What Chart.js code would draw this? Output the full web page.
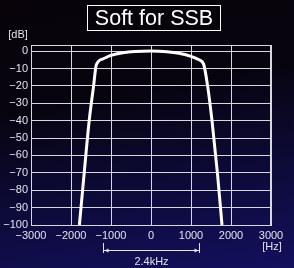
<!DOCTYPE html>
<html>
<head>
<meta charset="utf-8">
<script src="https://cdn.jsdelivr.net/npm/chart.js@4"></script>
<style>
  html, body { margin: 0; padding: 0; }
  body {
    width: 294px; height: 268px; overflow: hidden;
    background: linear-gradient(170deg, #070309 0%, #07040f 35%, #0d0b3c 70%, #13105e 100%);
  }
  #wrap { position: relative; width: 294px; height: 268px; }
</style>
</head>
<body>
<div id="wrap"><canvas id="chart" width="294" height="268"></canvas></div>
<script>
// Passband shape (Hz, dB)
const freqs = [-1790, -1670, -1545, -1435, -1368, -1200, -1000, -700, -400, 0, 400, 700, 1000, 1200, 1315, 1415, 1525, 1660, 1775];
const levels = [-100, -70, -40, -20, -8, -4.5, -2.5, -1, -0.3, 0, -0.4, -1.3, -3, -5, -7.5, -20, -40, -70, -100];
const xTicks = [-3000, -2000, -1000, 0, 1000, 2000, 3000];
const yTicks = [-100, -90, -80, -70, -60, -50, -40, -30, -20, -10, 0];
const bandEdges = [-1200, 1200];
const titleText = "Soft for SSB";
const bandLabel = "2.4kHz";

const points = freqs.map((f, i) => ({ x: f, y: levels[i] }));
const fontFam = "'Liberation Sans', Arial, sans-serif";
const textColor = "#e4e2ee";

function minus(v) {
  return String(v).replace("-", "\u2212");
}

// extra drawing: title box, frame, units, bandwidth marker
const extras = {
  id: "extras",
  afterDraw(chart) {
    const ctx = chart.ctx;
    const area = chart.chartArea;
    const xs = chart.scales.x;
    ctx.save();

    // frame on top
    ctx.strokeStyle = "#d8d8dc";
    ctx.lineWidth = 1;
    ctx.strokeRect(area.left + 0.5, area.top + 0.5, area.right - area.left - 1, area.bottom - area.top);

    // title box
    ctx.font = "21.5px " + fontFam;
    ctx.fillStyle = "#ffffff";
    ctx.textAlign = "center";
    ctx.textBaseline = "middle";
    ctx.fillText(titleText, 154, 19);
    ctx.strokeStyle = "#ffffff";
    ctx.strokeRect(87.5, 5.5, 133, 25);

    // units
    ctx.font = "11px " + fontFam;
    ctx.fillStyle = textColor;
    ctx.textAlign = "center";
    ctx.fillText("[dB]", 18, 35);
    ctx.fillText("[Hz]", 272, 247);

    // bandwidth marker
    const x1 = Math.round(xs.getPixelForValue(bandEdges[0])) + 0.5;
    const x2 = Math.round(xs.getPixelForValue(bandEdges[1])) + 0.5;
    const yl = 250.5;
    ctx.strokeStyle = "#e4e4ea";
    ctx.lineWidth = 1;
    ctx.beginPath();
    ctx.moveTo(x1, 243); ctx.lineTo(x1, 253);
    ctx.moveTo(x2, 243); ctx.lineTo(x2, 253);
    ctx.moveTo(x1, yl); ctx.lineTo(x2, yl);
    ctx.stroke();
    ctx.fillStyle = "#e4e4ea";
    ctx.beginPath();
    ctx.moveTo(x1 + 1, yl); ctx.lineTo(x1 + 5, yl - 2); ctx.lineTo(x1 + 5, yl + 2); ctx.closePath();
    ctx.moveTo(x2 - 1, yl); ctx.lineTo(x2 - 5, yl - 2); ctx.lineTo(x2 - 5, yl + 2); ctx.closePath();
    ctx.fill();
    ctx.fillStyle = textColor;
    ctx.font = "11px " + fontFam;
    ctx.fillText(bandLabel, (x1 + x2) / 2, 262);

    ctx.restore();
  }
};

new Chart(document.getElementById("chart"), {
  type: "scatter",
  data: {
    datasets: [{
      data: points,
      showLine: true,
      borderColor: "#ffffff",
      borderWidth: 3,
      pointRadius: 0,
      cubicInterpolationMode: "monotone",
      fill: false
    }]
  },
  options: {
    responsive: false,
    animation: false,
    layout: { padding: { top: 45, right: 23, left: 0, bottom: 0 } },
    plugins: { legend: { display: false }, tooltip: { enabled: false } },
    scales: {
      x: {
        type: "linear",
        min: xTicks[0],
        max: xTicks[xTicks.length - 1],
        afterBuildTicks: (s) => { s.ticks = xTicks.map(v => ({ value: v })); },
        afterFit: (s) => { s.height = 43; },
        grid: { color: "#d8d8dc", lineWidth: 1, drawTicks: false },
        border: { color: "#d8d8dc" },
        ticks: {
          color: textColor,
          font: { family: fontFam, size: 11 },
          padding: 4,
          maxRotation: 0,
          callback: (v) => minus(v)
        }
      },
      y: {
        type: "linear",
        min: -100,
        max: 3.5,
        afterBuildTicks: (s) => { s.ticks = yTicks.map(v => ({ value: v })); },
        afterFit: (s) => { s.width = 31; },
        grid: { color: "#d8d8dc", lineWidth: 1, drawTicks: false },
        border: { color: "#d8d8dc" },
        ticks: {
          color: textColor,
          font: { family: fontFam, size: 11 },
          padding: 3,
          callback: (v) => minus(v)
        }
      }
    }
  },
  plugins: [extras]
});
</script>
</body>
</html>
